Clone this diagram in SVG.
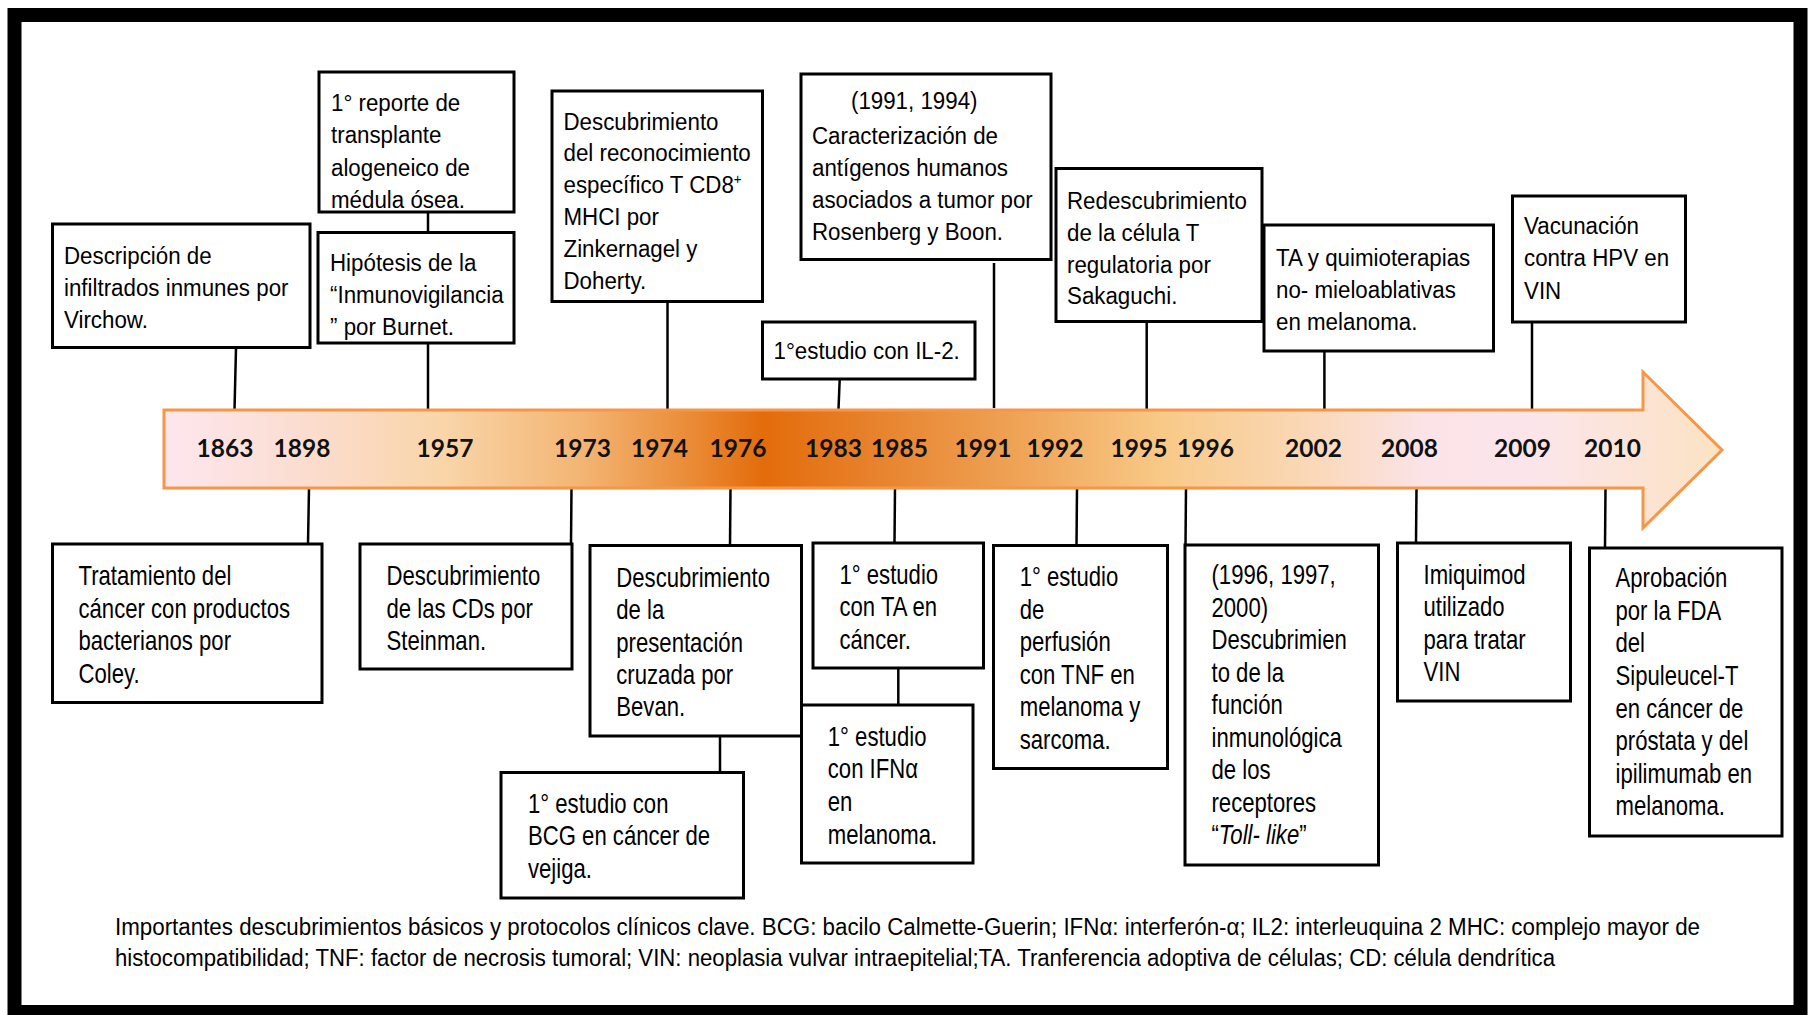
<svg xmlns="http://www.w3.org/2000/svg" width="1809" height="1015" viewBox="0 0 1809 1015">
<defs>
<style>
.box{fill:#fff;stroke:#000;stroke-width:3}
.t{font-family:"Liberation Sans",Arial,sans-serif;font-size:23.5px;fill:#000}
.b{font-family:"Liberation Sans",Arial,sans-serif;font-size:27px;fill:#000}
.yr{font-family:Lato,"Open Sans",sans-serif;font-weight:700;font-size:24.5px;fill:#111;text-anchor:middle}
.fn{font-family:"Liberation Sans",Arial,sans-serif;font-size:23.5px;fill:#000}
#connectors line{stroke:#000;stroke-width:2.5}
</style>
<linearGradient id="arrowGrad" gradientUnits="userSpaceOnUse" x1="164" y1="0" x2="1722" y2="0">
<stop offset="0" stop-color="#FDE6EE"/>
<stop offset="0.09" stop-color="#FBDDD0"/>
<stop offset="0.18" stop-color="#F9D5A8"/>
<stop offset="0.27" stop-color="#F3B472"/>
<stop offset="0.34" stop-color="#EA8A34"/>
<stop offset="0.385" stop-color="#E36C0A"/>
<stop offset="0.45" stop-color="#E7802A"/>
<stop offset="0.55" stop-color="#EFA457"/>
<stop offset="0.64" stop-color="#F8C987"/>
<stop offset="0.74" stop-color="#FAD9BA"/>
<stop offset="0.81" stop-color="#FBE3E8"/>
<stop offset="0.88" stop-color="#FCE5EA"/>
<stop offset="1" stop-color="#FBE3C4"/>
</linearGradient>
</defs>
<rect x="0" y="0" width="1809" height="1015" fill="#fff"/>
<rect id="frame" x="14.5" y="15" width="1786" height="997" fill="none" stroke="#000" stroke-width="14"/>

<g id="connectors">
<line x1="236" y1="348" x2="234.5" y2="410"/>
<line x1="428" y1="212" x2="428" y2="232.5"/>
<line x1="428" y1="343" x2="428" y2="410"/>
<line x1="667.5" y1="301.5" x2="667.5" y2="410"/>
<line x1="994" y1="263" x2="994" y2="408"/>
<line x1="839.7" y1="379" x2="838.5" y2="409"/>
<line x1="1146.7" y1="321.5" x2="1146.7" y2="410"/>
<line x1="1324.4" y1="351" x2="1324.4" y2="410"/>
<line x1="1532" y1="322" x2="1532" y2="410"/>
<line x1="309" y1="488" x2="308" y2="544"/>
<line x1="571.5" y1="488" x2="571" y2="544"/>
<line x1="730.5" y1="488" x2="730" y2="545.5"/>
<line x1="720" y1="736" x2="720" y2="772.5"/>
<line x1="895" y1="488" x2="894.5" y2="543"/>
<line x1="898.3" y1="668" x2="898.3" y2="705"/>
<line x1="1077" y1="488" x2="1076.5" y2="545.5"/>
<line x1="1186" y1="488" x2="1185.5" y2="545"/>
<line x1="1416.5" y1="488" x2="1416" y2="543"/>
<line x1="1605.5" y1="488" x2="1605" y2="548"/>
</g>

<g id="timeline">
<polygon points="164,410 1643,410 1643,372 1722,450 1643,528 1643,488 164,488" fill="url(#arrowGrad)" stroke="#F79646" stroke-width="3"/>
<text class="yr" x="225" y="457">1863</text>
<text class="yr" x="302" y="457">1898</text>
<text class="yr" x="445" y="457">1957</text>
<text class="yr" x="582.5" y="457">1973</text>
<text class="yr" x="659.5" y="457">1974</text>
<text class="yr" x="738" y="457">1976</text>
<text class="yr" x="833.5" y="457">1983</text>
<text class="yr" x="899.5" y="457">1985</text>
<text class="yr" x="983" y="457">1991</text>
<text class="yr" x="1055" y="457">1992</text>
<text class="yr" x="1139" y="457">1995</text>
<text class="yr" x="1205.5" y="457">1996</text>
<text class="yr" x="1313.5" y="457">2002</text>
<text class="yr" x="1409.5" y="457">2008</text>
<text class="yr" x="1522.5" y="457">2009</text>
<text class="yr" x="1612.5" y="457">2010</text>
</g>

<g id="n1863">
<rect class="box" x="52.5" y="224" width="257.5" height="123.5"/>
<text class="t" transform="translate(64 0) scale(0.95 1)"><tspan x="0" y="264.5">Descripción de</tspan><tspan x="0" y="296.5">infiltrados inmunes por</tspan><tspan x="0" y="328.5">Virchow.</tspan></text>
</g>
<g id="n1957a">
<rect class="box" x="319" y="72" width="195" height="140"/>
<text class="t" transform="translate(331 0) scale(0.95 1)"><tspan x="0" y="111">1° reporte de</tspan><tspan x="0" y="143.5">transplante</tspan><tspan x="0" y="176">alogeneico de</tspan><tspan x="0" y="208.5">médula ósea.</tspan></text>
</g>
<g id="n1957b">
<rect class="box" x="318" y="232.5" width="196" height="110.5"/>
<text class="t" transform="translate(330 0) scale(0.95 1)"><tspan x="0" y="271">Hipótesis de la</tspan><tspan x="0" y="303.5">“Inmunovigilancia</tspan><tspan x="0" y="335.5">” por Burnet.</tspan></text>
</g>
<g id="n1974">
<rect class="box" x="552" y="91" width="210.5" height="210.5"/>
<text class="t" transform="translate(563.5 0) scale(0.95 1)"><tspan x="0" y="130">Descubrimiento</tspan><tspan x="0" y="161.5">del reconocimiento</tspan><tspan x="0" y="193.5">específico T CD8</tspan><tspan dy="-9" font-size="14">+</tspan><tspan x="0" y="225.5">MHCI por</tspan><tspan x="0" y="257">Zinkernagel y</tspan><tspan x="0" y="289">Doherty.</tspan></text>
</g>
<g id="n1991">
<rect class="box" x="801" y="74" width="250" height="185.5"/>
<text class="t" transform="translate(812 0) scale(0.95 1)"><tspan x="41" y="109">(1991, 1994)</tspan><tspan x="0" y="144">Caracterización de</tspan><tspan x="0" y="176">antígenos humanos</tspan><tspan x="0" y="208">asociados a tumor por</tspan><tspan x="0" y="240">Rosenberg y Boon.</tspan></text>
</g>
<g id="n1983">
<rect class="box" x="762.5" y="322" width="212.5" height="57"/>
<text class="t" transform="translate(773.5 0) scale(0.95 1)"><tspan x="0" y="359.5">1°estudio con IL-2.</tspan></text>
</g>
<g id="n1995">
<rect class="box" x="1056" y="168.5" width="206" height="153"/>
<text class="t" transform="translate(1067 0) scale(0.95 1)"><tspan x="0" y="209">Redescubrimiento</tspan><tspan x="0" y="241">de la célula T</tspan><tspan x="0" y="273">regulatoria por</tspan><tspan x="0" y="304.5">Sakaguchi.</tspan></text>
</g>
<g id="n2002">
<rect class="box" x="1264" y="225" width="229.5" height="126"/>
<text class="t" transform="translate(1276 0) scale(0.95 1)"><tspan x="0" y="266">TA y quimioterapias</tspan><tspan x="0" y="298">no- mieloablativas</tspan><tspan x="0" y="330">en melanoma.</tspan></text>
</g>
<g id="n2009">
<rect class="box" x="1512.5" y="196" width="173" height="126"/>
<text class="t" transform="translate(1524 0) scale(0.95 1)"><tspan x="0" y="234">Vacunación</tspan><tspan x="0" y="266.5">contra HPV en</tspan><tspan x="0" y="299">VIN</tspan></text>
</g>

<g id="n1898">
<rect class="box" x="52.5" y="544" width="269.5" height="158.5"/>
<text class="b" transform="translate(78.5 0) scale(0.82 1)"><tspan x="0" y="585">Tratamiento del</tspan><tspan x="0" y="617.6">cáncer con productos</tspan><tspan x="0" y="650.2">bacterianos por</tspan><tspan x="0" y="682.8">Coley.</tspan></text>
</g>
<g id="n1973">
<rect class="box" x="360" y="544" width="212" height="125"/>
<text class="b" transform="translate(386.5 0) scale(0.82 1)"><tspan x="0" y="585.4">Descubrimiento</tspan><tspan x="0" y="617.7">de las CDs por</tspan><tspan x="0" y="650">Steinman.</tspan></text>
</g>
<g id="n1976">
<rect class="box" x="590" y="545.5" width="211.5" height="190.5"/>
<text class="b" transform="translate(616.3 0) scale(0.82 1)"><tspan x="0" y="587">Descubrimiento</tspan><tspan x="0" y="619.3">de la</tspan><tspan x="0" y="652">presentación</tspan><tspan x="0" y="684.3">cruzada por</tspan><tspan x="0" y="716.5">Bevan.</tspan></text>
</g>
<g id="n1976b">
<rect class="box" x="501" y="772.5" width="242.5" height="125.5"/>
<text class="b" transform="translate(528 0) scale(0.82 1)"><tspan x="0" y="813">1° estudio con</tspan><tspan x="0" y="845.5">BCG en cáncer de</tspan><tspan x="0" y="878">vejiga.</tspan></text>
</g>
<g id="n1985">
<rect class="box" x="813" y="543" width="170.5" height="125"/>
<text class="b" transform="translate(839.5 0) scale(0.82 1)"><tspan x="0" y="584">1° estudio</tspan><tspan x="0" y="616.5">con TA en</tspan><tspan x="0" y="649">cáncer.</tspan></text>
</g>
<g id="n1985b">
<rect class="box" x="801.5" y="705" width="171.5" height="158"/>
<text class="b" transform="translate(827.8 0) scale(0.82 1)"><tspan x="0" y="746">1° estudio</tspan><tspan x="0" y="778.5">con IFNα</tspan><tspan x="0" y="811">en</tspan><tspan x="0" y="844">melanoma.</tspan></text>
</g>
<g id="n1992">
<rect class="box" x="993.5" y="545.5" width="174" height="223"/>
<text class="b" transform="translate(1019.7 0) scale(0.82 1)"><tspan x="0" y="586.5">1° estudio</tspan><tspan x="0" y="619">de</tspan><tspan x="0" y="651.5">perfusión</tspan><tspan x="0" y="684">con TNF en</tspan><tspan x="0" y="716.5">melanoma y</tspan><tspan x="0" y="749">sarcoma.</tspan></text>
</g>
<g id="n1996">
<rect class="box" x="1185" y="545" width="193.5" height="320"/>
<text class="b" transform="translate(1211.5 0) scale(0.82 1)"><tspan x="0" y="584.5">(1996, 1997,</tspan><tspan x="0" y="617">2000)</tspan><tspan x="0" y="649.5">Descubrimien</tspan><tspan x="0" y="682">to de la</tspan><tspan x="0" y="714.5">función</tspan><tspan x="0" y="747">inmunológica</tspan><tspan x="0" y="779.5">de los</tspan><tspan x="0" y="812">receptores</tspan><tspan x="0" y="844.5">“<tspan font-style="italic">Toll- like</tspan>”</tspan></text>
</g>
<g id="n2008">
<rect class="box" x="1397.5" y="543" width="173" height="158"/>
<text class="b" transform="translate(1423.5 0) scale(0.82 1)"><tspan x="0" y="584">Imiquimod</tspan><tspan x="0" y="616.5">utilizado</tspan><tspan x="0" y="649">para tratar</tspan><tspan x="0" y="681.5">VIN</tspan></text>
</g>
<g id="n2010">
<rect class="box" x="1589.5" y="548" width="192.5" height="288"/>
<text class="b" transform="translate(1615.5 0) scale(0.82 1)"><tspan x="0" y="587.5">Aprobación</tspan><tspan x="0" y="620">por la FDA</tspan><tspan x="0" y="652.5">del</tspan><tspan x="0" y="685">Sipuleucel-T</tspan><tspan x="0" y="718">en cáncer de</tspan><tspan x="0" y="750.5">próstata y del</tspan><tspan x="0" y="783">ipilimumab en</tspan><tspan x="0" y="815.5">melanoma.</tspan></text>
</g>

<g id="caption">
<text class="fn" x="115" y="935" textLength="1585" lengthAdjust="spacingAndGlyphs">Importantes descubrimientos básicos y protocolos clínicos clave. BCG: bacilo Calmette-Guerin; IFNα: interferón-α; IL2: interleuquina 2 MHC: complejo mayor de</text>
<text class="fn" x="115" y="966" textLength="1440" lengthAdjust="spacingAndGlyphs">histocompatibilidad; TNF: factor de necrosis tumoral; VIN: neoplasia vulvar intraepitelial;TA. Tranferencia adoptiva de células; CD: célula dendrítica</text>
</g>
</svg>
